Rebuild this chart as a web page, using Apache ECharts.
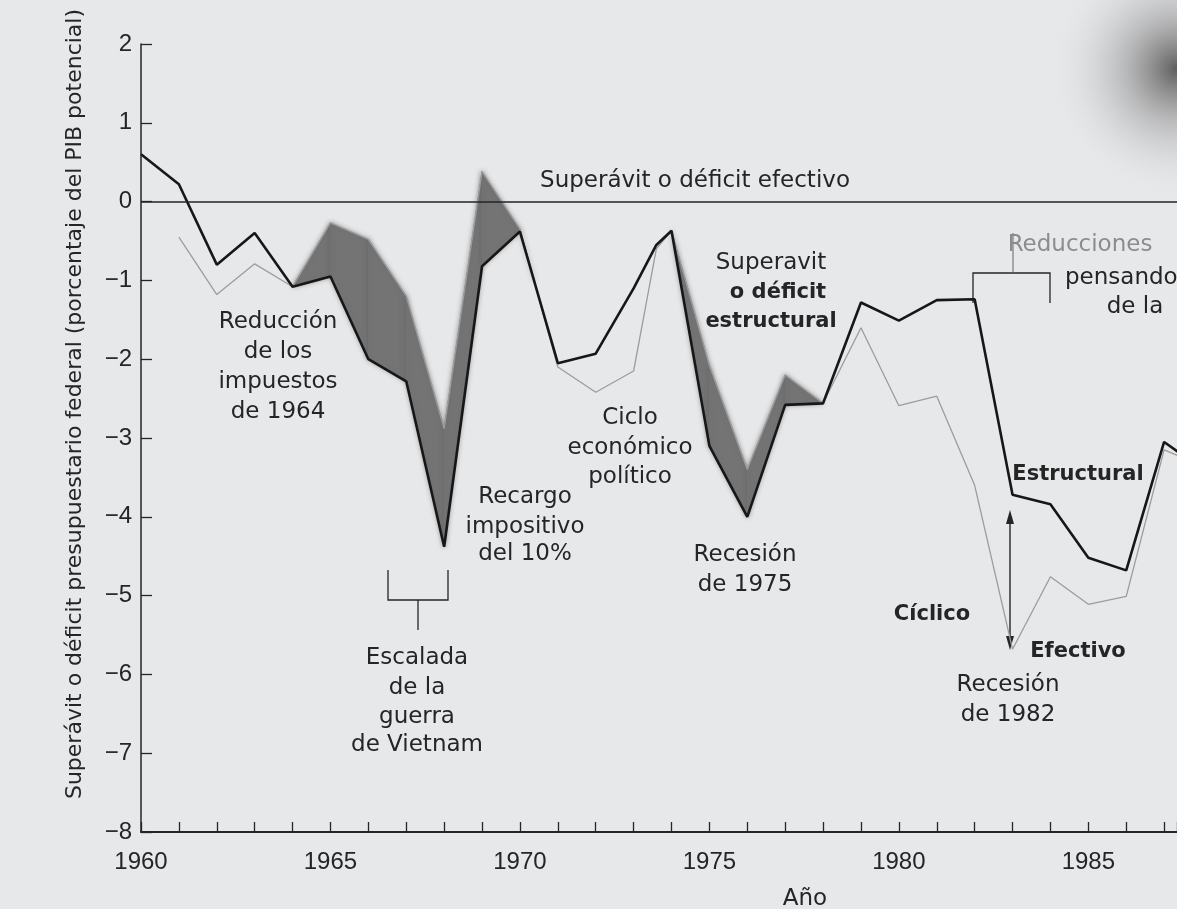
<!DOCTYPE html>
<html>
<head>
<meta charset="utf-8">
<script src="https://cdn.jsdelivr.net/npm/echarts/dist/echarts.min.js"></script>
<style>
html,body{margin:0;padding:0;background:#e7e8ea;}
#main{width:1177px;height:909px;}
</style>
</head>
<body>
<div id="main"></div>
<script>
// years (1973.6 = the short spike before the 1974 peak)
var years      = [1960, 1961, 1962, 1963, 1964, 1965, 1966, 1967, 1968, 1969, 1970, 1971, 1972, 1973, 1973.6, 1974, 1975, 1976, 1977, 1978, 1979, 1980, 1981, 1982, 1983, 1984, 1985, 1986, 1987, 1987.5];
var structural = [0.6, 0.22, -0.8, -0.4, -1.08, -0.95, -2.0, -2.28, -4.38, -0.82, -0.38, -2.05, -1.93, -1.1, -0.55, -0.37, -3.1, -4.0, -2.58, -2.56, -1.28, -1.51, -1.25, -1.24, -3.72, -3.84, -4.52, -4.68, -3.05, -3.22];
var effective  = [null, -0.45, -1.18, -0.79, -1.08, -0.27, -0.48, -1.2, -2.88, 0.38, -0.35, -2.1, -2.42, -2.15, -0.6, -0.37, -2.08, -3.4, -2.2, -2.56, -1.6, -2.59, -2.47, -3.6, -5.68, -4.76, -5.11, -5.01, -3.15, -3.25];
var labelStep = 5;

var ink = '#252525';
var fontA = '"DejaVu Sans", sans-serif';

var myChart = echarts.init(document.getElementById('main'));

var strData = years.map(function (y, i) { return [y, structural[i]]; });
var effData = years.map(function (y, i) { return [y, effective[i]]; });
var bandData = years.map(function (y, i) {
    var e = effective[i] == null ? structural[i] : effective[i];
    return [y, structural[i], e];
});

// shaded gap where effective is above structural
function renderBand(params, api) {
    var i = params.dataIndex;
    if (i >= bandData.length - 1) return null;
    var a = bandData[i], b = bandData[i + 1];
    var d0 = a[2] - a[1], d1 = b[2] - b[1];
    var pts;
    if (d0 <= 0 && d1 <= 0) return null;
    if (d0 > 0 && d1 > 0) {
        pts = [[a[0], a[1]], [b[0], b[1]], [b[0], b[2]], [a[0], a[2]]];
    } else {
        var t = d0 / (d0 - d1);
        var xc = a[0] + t * (b[0] - a[0]);
        var yc = a[1] + t * (b[1] - a[1]);
        if (d0 > 0) pts = [[a[0], a[1]], [xc, yc], [a[0], a[2]]];
        else pts = [[xc, yc], [b[0], b[1]], [b[0], b[2]]];
    }
    return {
        type: 'polygon',
        shape: { points: pts.map(function (p) { return api.coord(p); }) },
        style: {
            fill: '#747474', stroke: '#747474', lineWidth: 0.8,
            shadowBlur: 5, shadowColor: 'rgba(100,100,100,0.7)'
        }
    };
}

var notes = [
    { t: 'Superávit o déficit efectivo', x: 695, y: 181 },
    { t: 'Superavit', x: 771, y: 263 },
    { t: 'o déficit', x: 778, y: 293, b: 1 },
    { t: 'estructural', x: 771, y: 322, b: 1 },
    { t: 'Reducción', x: 278, y: 322 },
    { t: 'de los', x: 278, y: 352 },
    { t: 'impuestos', x: 278, y: 382 },
    { t: 'de 1964', x: 278, y: 412 },
    { t: 'Ciclo', x: 630, y: 418 },
    { t: 'económico', x: 630, y: 448 },
    { t: 'político', x: 630, y: 477 },
    { t: 'Recargo', x: 525, y: 497 },
    { t: 'impositivo', x: 525, y: 527 },
    { t: 'del 10%', x: 525, y: 554 },
    { t: 'Escalada', x: 417, y: 658 },
    { t: 'de la', x: 417, y: 688 },
    { t: 'guerra', x: 417, y: 717 },
    { t: 'de Vietnam', x: 417, y: 745 },
    { t: 'Recesión', x: 745, y: 555 },
    { t: 'de 1975', x: 745, y: 585 },
    { t: 'Estructural', x: 1078, y: 475, b: 1 },
    { t: 'Cíclico', x: 932, y: 615, b: 1 },
    { t: 'Efectivo', x: 1078, y: 652, b: 1 },
    { t: 'Recesión', x: 1008, y: 685 },
    { t: 'de 1982', x: 1008, y: 715 },
    { t: 'Reducciones', x: 1080, y: 245, c: '#8c8c8c' },
    { t: 'pensando', x: 1065, y: 278, al: 'left' },
    { t: 'de la', x: 1135, y: 307 }
];

var graphics = [
    {
        type: 'rect', z: 0, silent: true,
        shape: { x: 1040, y: 0, width: 137, height: 230 },
        style: {
            fill: new echarts.graphic.RadialGradient(1, 0.3, 0.95, [
                { offset: 0, color: 'rgba(70,70,70,0.85)' },
                { offset: 0.4, color: 'rgba(130,130,130,0.45)' },
                { offset: 1, color: 'rgba(231,232,234,0)' }
            ])
        }
    },
    {
        type: 'text', x: 75, y: 404, rotation: Math.PI / 2,
        style: {
            text: 'Superávit o déficit presupuestario federal (porcentaje del PIB potencial)',
            font: '22px ' + fontA, fill: ink, align: 'center', verticalAlign: 'middle'
        }
    },
    {
        type: 'text', x: 805, y: 899,
        style: { text: 'Año', font: '23px ' + fontA, fill: ink, align: 'center', verticalAlign: 'middle' }
    },
    // Escalada bracket
    { type: 'polyline', shape: { points: [[388, 570], [388, 600], [448, 600], [448, 570]] }, style: { stroke: ink, lineWidth: 1.3, fill: null } },
    { type: 'line', shape: { x1: 418, y1: 600, x2: 418, y2: 630 }, style: { stroke: ink, lineWidth: 1.3 } },
    // Reducciones bracket
    { type: 'polyline', shape: { points: [[973, 303], [973, 273], [1050, 273], [1050, 303]] }, style: { stroke: ink, lineWidth: 1.3, fill: null } },
    { type: 'line', shape: { x1: 1013, y1: 273, x2: 1013, y2: 233 }, style: { stroke: '#666', lineWidth: 1 } },
    // Cíclico arrow
    { type: 'line', shape: { x1: 1010, y1: 518, x2: 1010, y2: 644 }, style: { stroke: ink, lineWidth: 1.4 } },
    { type: 'polygon', shape: { points: [[1010, 510], [1006, 524], [1014, 524]] }, style: { fill: ink } },
    { type: 'polygon', shape: { points: [[1010, 650], [1006, 636], [1014, 636]] }, style: { fill: ink } }
];

notes.forEach(function (n) {
    graphics.push({
        type: 'text', x: n.x, y: n.y,
        style: {
            text: n.t,
            font: (n.b ? 'bold 21px ' : '23px ') + fontA,
            fill: n.c || ink,
            align: n.al || 'center',
            verticalAlign: 'middle'
        }
    });
});

var option = {
    backgroundColor: '#e7e8ea',
    animation: false,
    grid: { left: 141, right: 0, top: 44, bottom: 77, containLabel: false, outerBoundsMode: 'none' },
    xAxis: {
        type: 'value', min: 1960, max: 1987.34, interval: 1, z: 4,
        axisLine: { show: true, onZero: false, lineStyle: { color: ink, width: 2 } },
        axisTick: { show: true, inside: true, length: 10, lineStyle: { color: ink, width: 1.3 } },
        splitLine: { show: false },
        axisLabel: {
            margin: 18, color: ink, fontSize: 24, fontFamily: '"Liberation Sans", Arial, sans-serif',
            showMinLabel: true, showMaxLabel: true,
            formatter: function (v) { return (Math.abs(v % labelStep) < 1e-6) ? String(v) : ''; }
        }
    },
    yAxis: {
        type: 'value', min: -8, max: 2, interval: 1, z: 4,
        axisLine: { show: true, onZero: false, lineStyle: { color: ink, width: 1.5 } },
        axisTick: { show: true, inside: true, length: 11, lineStyle: { color: ink, width: 1.3 } },
        splitLine: { show: false },
        axisLabel: {
            margin: 9, color: ink, fontSize: 24, fontFamily: '"Liberation Sans", Arial, sans-serif',
            formatter: function (v) { return String(v).replace('-', '\u2212'); }
        }
    },
    series: [
        {
            type: 'custom', name: 'brecha', z: 1, clip: true,
            renderItem: renderBand,
            encode: { x: 0, y: [1, 2] },
            data: bandData
        },
        {
            type: 'line', name: 'Efectivo', z: 2, data: effData,
            showSymbol: false, connectNulls: false, clip: true,
            lineStyle: { color: '#9c9c9c', width: 1.3 }
        },
        {
            type: 'line', name: 'Estructural', z: 3, data: strData,
            showSymbol: false, clip: true,
            lineStyle: { color: '#171717', width: 2.6 },
            markLine: {
                silent: true, symbol: 'none', label: { show: false },
                lineStyle: { color: ink, width: 1.6, type: 'solid' },
                data: [{ yAxis: 0 }]
            }
        }
    ],
    graphic: graphics
};
myChart.setOption(option);
</script>
</body>
</html>
